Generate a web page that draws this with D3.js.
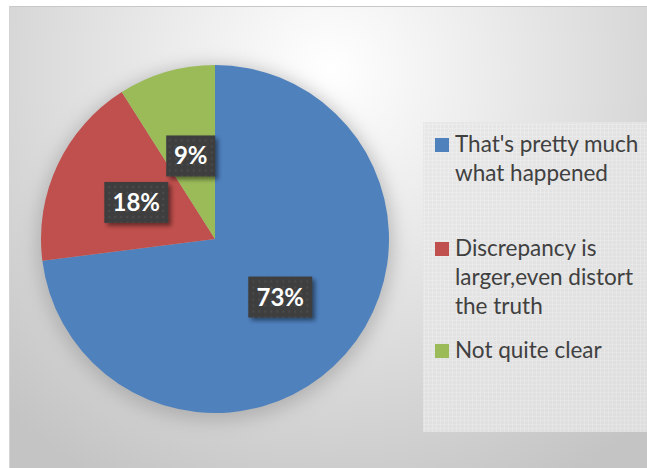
<!DOCTYPE html>
<html><head><meta charset="utf-8">
<script src="https://cdn.jsdelivr.net/npm/d3@7"></script>
<style>html,body{margin:0;padding:0;background:#fff;}svg{display:block;}</style>
</head><body>
<svg id="c" width="647" height="468"></svg>
<script>
const categories = ["That's pretty much what happened", "Discrepancy is larger,even distort the truth", "Not quite clear"];
const legendLines = [["That's pretty much", "what happened"], ["Discrepancy is", "larger,even distort", "the truth"], ["Not quite clear"]];
const values = [73, 18, 9];
const colors = ["#4F81BD", "#C0504D", "#9BBB59"];

const svg = d3.select("#c");
const defs = svg.append("defs");

const bg = defs.append("radialGradient").attr("id","bg").attr("gradientUnits","userSpaceOnUse")
  .attr("cx",330).attr("cy",70).attr("r",470);
bg.append("stop").attr("offset","0%").attr("stop-color","#ffffff");
bg.append("stop").attr("offset","35%").attr("stop-color","#ebebeb");
bg.append("stop").attr("offset","100%").attr("stop-color","#c4c4c4");

const pat = defs.append("pattern").attr("id","grid").attr("patternUnits","userSpaceOnUse").attr("width",4).attr("height",4);
pat.append("rect").attr("width",4).attr("height",4).attr("fill","#e4e4e4");
pat.append("rect").attr("width",4).attr("height",1).attr("fill","#ececec");
pat.append("rect").attr("width",1).attr("height",4).attr("fill","#ececec");

const dots = defs.append("pattern").attr("id","dots").attr("patternUnits","userSpaceOnUse").attr("width",6).attr("height",6);
dots.append("rect").attr("width",6).attr("height",6).attr("fill","#3e3e3e");
dots.append("circle").attr("cx",3).attr("cy",3).attr("r",1.2).attr("fill","#4a4a4a");

const blur = defs.append("filter").attr("id","blur").attr("x","-30%").attr("y","-30%").attr("width","160%").attr("height","160%");
blur.append("feGaussianBlur").attr("stdDeviation",9);
const sh = defs.append("filter").attr("id","sh").attr("x","-30%").attr("y","-30%").attr("width","160%").attr("height","160%");
sh.append("feGaussianBlur").attr("stdDeviation",2);

// chart area
svg.append("rect").attr("x",9).attr("y",6).attr("width",638).attr("height",462).attr("fill","url(#bg)");
svg.append("line").attr("x1",9).attr("x2",647).attr("y1",6.5).attr("y2",6.5).attr("stroke","#c8c8c8");
svg.append("line").attr("x1",9.5).attr("x2",9.5).attr("y1",6).attr("y2",468).attr("stroke","#d4d4d4");

// legend box
svg.append("rect").attr("x",423).attr("y",122).attr("width",224).attr("height",310).attr("fill","url(#grid)").attr("opacity",0.8);

const cx = 215, cy = 239, R = 174;
const g = svg.append("g").attr("transform",`translate(${cx},${cy})`);
g.append("circle").attr("r",R+4).attr("cy",4).attr("fill","#9a9a9a").attr("filter","url(#blur)").attr("opacity",0.6);

const pie = d3.pie().sort(null).value(d=>d);
const arcs = pie(values);
const arc = d3.arc().innerRadius(0).outerRadius(R);
g.selectAll("path.s").data(arcs).join("path").attr("class","s")
  .attr("d",arc).attr("fill",(d,i)=>colors[i]);

const boxW = [64,64,49];
const lab = g.selectAll("g.l").data(arcs).join("g").attr("class","l")
  .attr("transform",d=>{const c=arc.centroid(d);return `translate(${c[0]},${c[1]})`;});
lab.append("rect").attr("x",(d,i)=>-boxW[i]/2+3).attr("y",-20+3).attr("width",(d,i)=>boxW[i]).attr("height",41)
  .attr("fill","#000").attr("opacity",0.45).attr("filter","url(#sh)");
lab.append("rect").attr("x",(d,i)=>-boxW[i]/2).attr("y",-20).attr("width",(d,i)=>boxW[i]).attr("height",41)
  .attr("fill","url(#dots)");
lab.append("text").attr("text-anchor","middle").attr("y",9)
  .attr("font-family","Lato, 'Open Sans', sans-serif").attr("font-weight","bold").attr("font-size",24)
  .attr("fill","#ffffff").text(d=>d.value+"%");

// legend
const legY = [138, 242, 344];
const leg = svg.append("g");
legendLines.forEach((lines,i)=>{
  leg.append("rect").attr("x",435).attr("y",legY[i]).attr("width",14).attr("height",14).attr("fill",colors[i]);
  lines.forEach((t,j)=>{
    leg.append("text").attr("x",455).attr("y",legY[i]+14+j*29)
      .attr("font-family","Lato, 'Open Sans', sans-serif").attr("font-size",22.5)
      .attr("fill","#404040").text(t);
  });
});
</script>
</body></html>
